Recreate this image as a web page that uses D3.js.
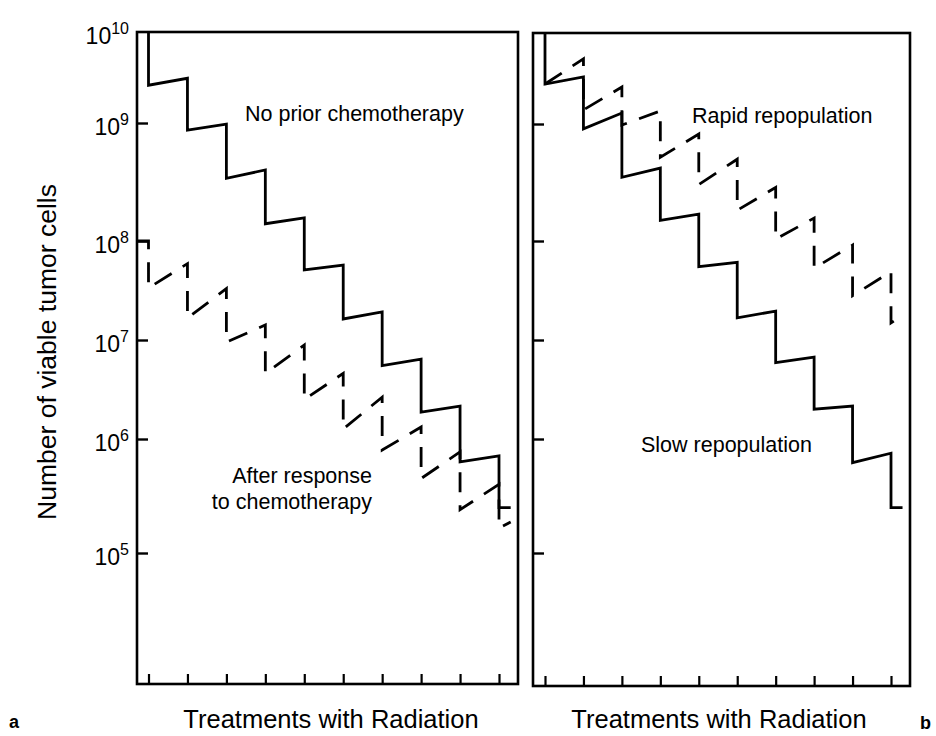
<!DOCTYPE html>
<html>
<head>
<meta charset="utf-8">
<script src="https://cdn.jsdelivr.net/npm/d3@7"></script>
<style>
  body { margin: 0; background: #fff; }
  svg { display: block; }
  text { font-family: "Liberation Sans", Arial, Helvetica, sans-serif; fill: #000; }
</style>
</head>
<body>
<svg id="chart" width="936" height="736"></svg>
<script>
// Treatment fractions along the x axis
const treatments = [1, 2, 3, 4, 5, 6, 7, 8, 9, 10];
// Decade tick values on the cell-count axis
const decades = [1e10, 1e9, 1e8, 1e7, 1e6, 1e5];
const decadeExponents = ["10", "9", "8", "7", "6", "5"];

// Panel a: no prior chemotherapy (cell count just before / just after each fraction)
const noPriorPre  = [1e10, 3.1e9, 9.8e8, 4.0e8, 1.57e8, 5.7e7, 1.92e7, 6.4e6, 2.15e6, 7.1e5];
const noPriorPost = [2.6e9, 8.7e8, 3.4e8, 1.4e8, 5.1e7, 1.63e7, 5.5e6, 1.87e6, 6.3e5, 2.5e5];
const noPriorLead = [1, 1e10];
const noPriorTail = [10.3, 2.5e5];

// Panel a: after response to chemotherapy
const afterChemoPre  = [1e8, 5.9e7, 3.3e7, 1.42e7, 8.9e6, 4.6e6, 2.65e6, 1.32e6, 7.7e5, 4.0e5];
const afterChemoPost = [3.35e7, 1.67e7, 9.5e6, 4.6e6, 2.5e6, 1.26e6, 8.0e5, 4.5e5, 2.4e5, 1.66e5];
const afterChemoLead = [0.7, 1e8];
const afterChemoTail = [10.3, 1.87e5];

// Panel b: slow repopulation
const slowPre  = [1e10, 3.3e9, 1.32e9, 4.2e8, 1.7e8, 6.1e7, 1.96e7, 6.7e6, 2.15e6, 7.5e5];
const slowPost = [2.75e9, 9.1e8, 3.5e8, 1.5e8, 5.5e7, 1.67e7, 5.9e6, 2.0e6, 6.2e5, 2.5e5];
const slowLead = [1, 1e10];
const slowTail = [10.3, 2.5e5];

// Panel b: rapid repopulation (branches off after the first fraction)
const rapidPre  = [2.75e9, 5.2e9, 2.55e9, 1.39e9, 8.2e8, 5.0e8, 2.87e8, 1.57e8, 9.1e7, 4.9e7];
const rapidPost = [2.75e9, 1.43e9, 9.8e8, 5.2e8, 3.04e8, 1.83e8, 1.04e8, 5.3e7, 2.8e7, 1.49e7];
const rapidLead = [1, 2.75e9];
const rapidTail = [10.28, 1.75e7];

const svg = d3.select("#chart");

const panels = [
  {
    frame: { x: 137, y: 32, w: 381, h: 652 },
    x: d3.scaleLinear().domain([1, 10]).range([148.5, 499]),
    y: d3.scaleLog().domain(decades).range([32, 123, 241, 340, 439, 553]),
    curves: [
      { pre: noPriorPre, post: noPriorPost, lead: noPriorLead, tail: noPriorTail, dash: null },
      { pre: afterChemoPre, post: afterChemoPost, lead: afterChemoLead, tail: afterChemoTail, dash: "20,13" }
    ],
    labels: true,
    xTitle: { x: 331, text: "Treatments with Radiation" }
  },
  {
    frame: { x: 533, y: 33, w: 377, h: 653 },
    x: d3.scaleLinear().domain([1, 10]).range([545, 891]),
    y: d3.scaleLog().domain(decades).range([33, 124, 241, 340, 439, 553]),
    curves: [
      { pre: slowPre, post: slowPost, lead: slowLead, tail: slowTail, dash: null },
      { pre: rapidPre, post: rapidPost, lead: rapidLead, tail: rapidTail, dash: "20,13" }
    ],
    labels: false,
    xTitle: { x: 719, text: "Treatments with Radiation" }
  }
];

function stepPoints(c) {
  const pts = [c.lead];
  treatments.forEach((t, i) => {
    pts.push([t, c.pre[i]]);
    pts.push([t, c.post[i]]);
  });
  pts.push(c.tail);
  return pts;
}

panels.forEach(p => {
  const g = svg.append("g");
  const f = p.frame;

  // y ticks pointing into the plot
  g.append("g")
    .attr("transform", `translate(${f.x},0)`)
    .call(d3.axisRight(p.y).tickValues(decades.slice(1)).tickSize(11).tickFormat(""))
    .call(a => a.select(".domain").remove())
    .call(a => a.selectAll("line").attr("stroke", "#000").attr("stroke-width", 2.4));

  // x ticks pointing up from the bottom edge
  g.append("g")
    .attr("transform", `translate(0,${f.y + f.h})`)
    .call(d3.axisTop(p.x).tickValues(treatments).tickSize(10).tickFormat(""))
    .call(a => a.select(".domain").remove())
    .call(a => a.selectAll("line").attr("stroke", "#000").attr("stroke-width", 2.2));

  // frame
  g.append("rect")
    .attr("x", f.x).attr("y", f.y).attr("width", f.w).attr("height", f.h)
    .attr("fill", "none").attr("stroke", "#000").attr("stroke-width", 2.6);

  const line = d3.line().x(d => p.x(d[0])).y(d => p.y(d[1]));

  p.curves.forEach(c => {
    g.append("path")
      .attr("d", line(stepPoints(c)))
      .attr("fill", "none")
      .attr("stroke", "#000")
      .attr("stroke-width", 2.8)
      .attr("stroke-linejoin", "miter")
      .attr("stroke-dasharray", c.dash);
  });

  if (p.labels) {
    const lab = g.selectAll("text.decade")
      .data(decades)
      .join("text")
      .attr("class", "decade")
      .attr("x", 129)
      .attr("y", d => p.y(d) + 12)
      .attr("text-anchor", "end")
      .style("font-size", "23px");
    lab.append("tspan").text("10");
    lab.append("tspan")
      .attr("dy", -10)
      .style("font-size", "16px")
      .text((d, i) => decadeExponents[i]);
  }

  g.append("text")
    .attr("x", p.xTitle.x).attr("y", 728)
    .attr("text-anchor", "middle")
    .style("font-size", "25.5px")
    .text(p.xTitle.text);
});

// curve annotations
const notes = [
  { x: 245, y: 121, anchor: "start", text: "No prior chemotherapy" },
  { x: 372, y: 483, anchor: "end", text: "After response" },
  { x: 372, y: 509, anchor: "end", text: "to chemotherapy" },
  { x: 692, y: 123, anchor: "start", text: "Rapid repopulation" },
  { x: 641, y: 452, anchor: "start", text: "Slow repopulation" }
];
svg.selectAll("text.note")
  .data(notes)
  .join("text")
  .attr("class", "note")
  .attr("x", d => d.x).attr("y", d => d.y)
  .attr("text-anchor", d => d.anchor)
  .style("font-size", "21.5px")
  .text(d => d.text);

// y axis title
svg.append("text")
  .attr("transform", "translate(56,352) rotate(-90)")
  .attr("text-anchor", "middle")
  .style("font-size", "26.5px")
  .text("Number of viable tumor cells");

// panel letters
svg.append("text").attr("x", 9).attr("y", 728)
  .style("font-size", "18px").style("font-weight", "bold").text("a");
svg.append("text").attr("x", 920).attr("y", 729)
  .style("font-size", "18px").style("font-weight", "bold").text("b");
</script>
</body>
</html>
